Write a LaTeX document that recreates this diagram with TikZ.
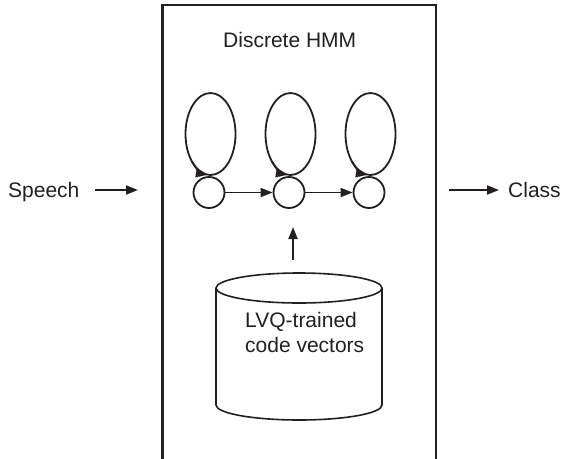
\documentclass[tikz,border=0pt]{standalone}
\usepackage{fontspec}
\setmainfont{Liberation Sans}
\usetikzlibrary{arrows.meta,calc}
\definecolor{ink}{RGB}{35,31,32}
\begin{document}
\begin{tikzpicture}[x=1pt,y=1pt,
  lbl/.style={inner sep=0pt, font=\fontsize{21}{25}\selectfont, text=ink},
  state/.style={circle, draw=ink, line width=1.8pt, minimum size=31pt, inner sep=0pt},
  arr/.style={draw=ink, line width=1.8pt, -{Triangle[length=12pt,width=9pt]}},
  loopline/.style={draw=ink, line width=1.8pt},
  cyl/.style={draw=ink, line width=1.6pt},
  frame/.style={draw=ink, line width=2.4pt, line join=miter}]
\useasboundingbox (0,0) rectangle (561,-458);
% outer box (bottom edge lies below the picture)
\draw[frame] (162.5,-459) -- (162.5,-5) -- (436,-5) -- (436,-459);
% labels
\node[lbl, anchor=base west] (title) at (223,-47) {Discrete HMM};
\node[lbl, anchor=base west] (speech) at (8,-197.5) {Speech};
\node[lbl, anchor=base west] (class) at (508,-197.5) {Class};
% states
\node[state] (s1) at (209,-192.5) {};
\node[state] (s2) at (289,-192.5) {};
\node[state] (s3) at (369,-192.5) {};
% self loops
\foreach \s in {s1,s2,s3}{
  \coordinate (c\s) at ([xshift=1.5pt,yshift=58.5pt]\s.center);
  \draw[loopline] (c\s) ellipse [x radius=25, y radius=41];
  \draw[arr] ($(c\s)+(222:25 and 41)$) arc[start angle=222, end angle=264, x radius=25, y radius=41];
}
% transitions
\draw[arr] (s1) -- (s2);
\draw[arr] (s2) -- (s3);
% input / output arrows
\coordinate (inA) at (95,-190);
\coordinate (inB) at (138,-190);
\coordinate (outA) at (449,-190);
\coordinate (outB) at (499,-190);
\draw[arr] (inA) -- (inB);
\draw[arr] (outA) -- (outB);
% codebook cylinder
\node[minimum width=166pt, minimum height=147pt, inner sep=0pt] (db) at (299,-346.5) {};
\draw[cyl] (299,-288) ellipse [x radius=83, y radius=15];
\draw[cyl] (216,-288) -- (216,-405) arc[start angle=180, end angle=360, x radius=83, y radius=15] -- (382,-288);
\node[lbl, anchor=base west, align=left] (dbtext) at (245,-352) {LVQ-trained\\code vectors};
% codebook to HMM arrow
\coordinate (upA) at (293,-260);
\coordinate (upB) at (293,-227);
\draw[arr] (upA) -- (upB);
\end{tikzpicture}
\end{document}
